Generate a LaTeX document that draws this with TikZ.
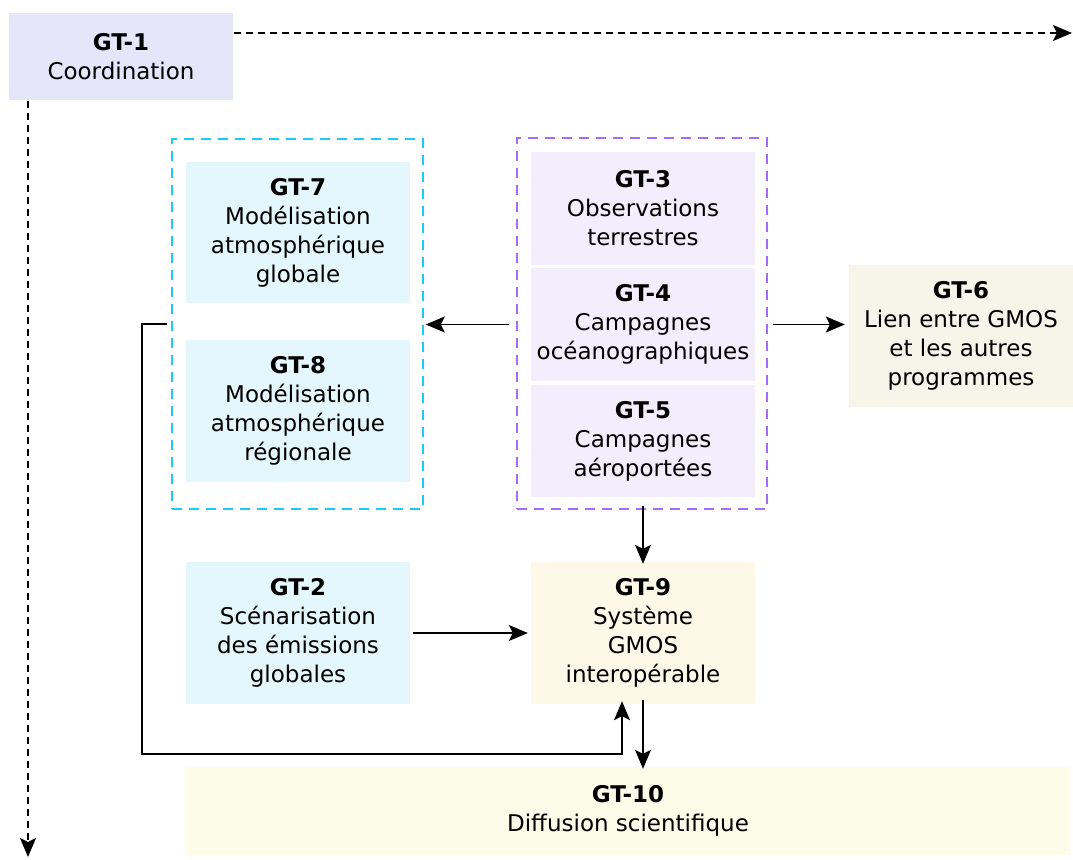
\documentclass[tikz,border=0pt]{standalone}
\usepackage{fontspec}
\setmainfont{DejaVu Sans}
\usetikzlibrary{arrows.meta}
\definecolor{coordfill}{HTML}{E6E6FA}
\definecolor{modfill}{HTML}{E4F7FC}
\definecolor{modline}{HTML}{1CCBF2}
\definecolor{obsfill}{HTML}{F3EEFD}
\definecolor{obsline}{HTML}{A66CF5}
\definecolor{linkfill}{HTML}{F7F5EA}
\definecolor{sysfill}{HTML}{FDF8E7}
\definecolor{difffill}{HTML}{FDFCE9}
\tikzset{
  gt/.style={rectangle, inner sep=0pt, align=center, font=\fontsize{23}{29}\selectfont},
  group/.style={rectangle, inner sep=0pt, line width=1.5pt, dash pattern=on 10pt off 7pt},
  flow/.style={line width=1.3pt, -{Stealth[length=19pt,width=16pt,inset=4pt]}},
  dflow/.style={flow, dash pattern=on 7pt off 5pt},
}
\begin{document}
\begin{tikzpicture}[x=1pt,y=-1pt]
\useasboundingbox (0,0) rectangle (1073,859);

% working groups
\node[gt, fill=coordfill, minimum width=224pt, minimum height=87pt] (gt1) at (121,56.5)
  {\textbf{GT-1}\\Coordination};
\node[gt, fill=modfill, minimum width=224pt, minimum height=141pt] (gt7) at (298,232.5)
  {\textbf{GT-7}\\Modélisation\\atmosphérique\\globale};
\node[gt, fill=modfill, minimum width=224pt, minimum height=142pt] (gt8) at (298,411)
  {\textbf{GT-8}\\Modélisation\\atmosphérique\\régionale};
\node[gt, fill=obsfill, minimum width=224pt, minimum height=113pt] (gt3) at (643,208.5)
  {\textbf{GT-3}\\Observations\\terrestres};
\node[gt, fill=obsfill, minimum width=224pt, minimum height=113pt] (gt4) at (643,324.5)
  {\textbf{GT-4}\\Campagnes\\océanographiques};
\node[gt, fill=obsfill, minimum width=224pt, minimum height=112pt] (gt5) at (643,441)
  {\textbf{GT-5}\\Campagnes\\aéroportées};
\node[gt, fill=linkfill, minimum width=224pt, minimum height=142pt] (gt6) at (961,336)
  {\textbf{GT-6}\\Lien entre GMOS\\et les autres\\programmes};
\node[gt, fill=modfill, minimum width=224pt, minimum height=142pt] (gt2) at (298,633)
  {\textbf{GT-2}\\Scénarisation\\des émissions\\globales};
\node[gt, fill=sysfill, minimum width=224pt, minimum height=142pt] (gt9) at (643,633)
  {\textbf{GT-9}\\Système\\GMOS\\interopérable};
\node[gt, fill=difffill, minimum width=884pt, minimum height=88pt] (gt10) at (628,811)
  {\textbf{GT-10}\\Diffusion scientifique};

% dashed groupings
\node[group, draw=modline, minimum width=251pt, minimum height=370pt] (modgrp) at (297.5,324) {};
\node[group, draw=obsline, minimum width=250pt, minimum height=371pt] (obsgrp) at (642,323.5) {};

% free ends of the coordination links
\coordinate (east) at (1072,33);
\coordinate (south) at (28,857);

% connectors
\draw[dflow] (gt1.east |- east) ++(1,0) -- (east);
\draw[dflow] (gt1.south -| south) ++(0,1) -- (south);
\draw[flow] ([xshift=-7pt]obsgrp.west |- gt4) -- ([xshift=2pt]modgrp.east |- gt4);
\draw[flow] ([xshift=5pt]obsgrp.east |- gt4) -- ([xshift=-4pt]gt6.west |- gt4);
\draw[flow] ([yshift=4pt]gt9.north |- obsgrp.south) -- ([yshift=-2pt]gt9.north);
\draw[flow] ([xshift=3pt]gt2.east) -- ([xshift=-3pt]gt9.west);
\draw[flow] ([yshift=4pt]gt9.south) -- ([yshift=-2pt]gt9.south |- gt10.north);
\draw[flow] ([xshift=-4pt]modgrp.west |- 0,324) -| (142,754) -| ([xshift=-21pt,yshift=3pt]gt9.south);
\end{tikzpicture}
\end{document}
